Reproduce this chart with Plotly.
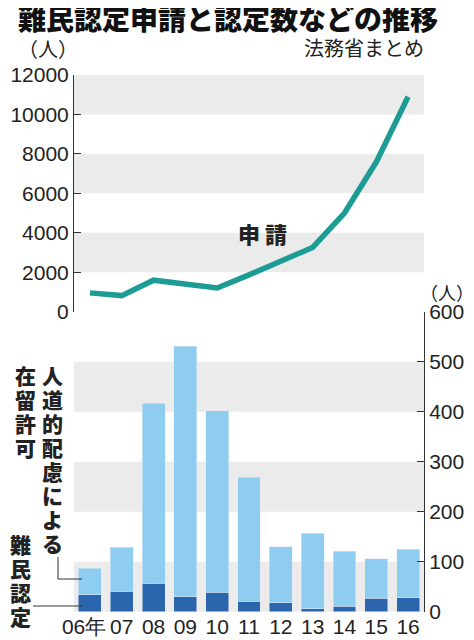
import plotly.graph_objects as go

# page body has an 8px margin; the figure is sized so that it fills 474x640 of the window
OX, OY = 8, 8
W, H = 474 - OX, 640 - OY

years = ["06年\u00a0\u00a0", "07", "08", "09", "10", "11", "12", "13", "14", "15", "16"]
applications = [954, 816, 1599, 1388, 1202, 1867, 2545, 3260, 5000, 7586, 10901]
recognized = [34, 41, 57, 30, 39, 21, 18, 6, 11, 27, 28]
humanitarian = [53, 88, 360, 501, 363, 248, 112, 151, 110, 79, 97]

top_ticks = [0, 2000, 4000, 6000, 8000, 10000, 12000]
bottom_ticks = [0, 100, 200, 300, 400, 500, 600]

TEAL = "#1c9c94"
LIGHT = "#8ecdf0"
DARK = "#2b65ae"
BAND = "#ebebeb"
INK = "#222222"
NUM_FONT = "Liberation Sans, Arial, sans-serif"
JP = "Noto Sans CJK JP"
NUM_SIZE = 21

def px(x):
    return (x - OX) / W

def py(y):
    return 1 - (y - OY) / H

xs = list(range(len(years)))

fig = go.Figure()
fig.add_trace(go.Bar(x=xs, y=recognized, marker_color=DARK, width=0.72,
                     xaxis="x", yaxis="y", hoverinfo="skip"))
fig.add_trace(go.Bar(x=xs, y=humanitarian, marker_color=LIGHT, width=0.72,
                     xaxis="x", yaxis="y", hoverinfo="skip"))
fig.add_trace(go.Scatter(x=xs, y=applications, mode="lines",
                         line=dict(color=TEAL, width=5.5),
                         xaxis="x2", yaxis="y2", hoverinfo="skip"))

shapes = []
for lo, hi in zip(top_ticks[1::2], top_ticks[2::2]):
    shapes.append(dict(type="rect", xref="x2 domain", yref="y2", x0=0, x1=1,
                       y0=lo, y1=hi, fillcolor=BAND, line_width=0, layer="below"))
for lo, hi in zip(bottom_ticks[0::2], bottom_ticks[1::2]):
    shapes.append(dict(type="rect", xref="x domain", yref="y", x0=0, x1=1,
                       y0=lo, y1=hi, fillcolor=BAND, line_width=0, layer="below"))

# leader lines
shapes.append(dict(type="path", xref="paper", yref="paper",
                   path=f"M {px(58)} {py(557)} L {px(58)} {py(579)} L {px(82)} {py(579)}",
                   line=dict(color="#333", width=1)))
shapes.append(dict(type="line", xref="paper", yref="paper",
                   x0=px(33), y0=py(606), x1=px(82), y1=py(606),
                   line=dict(color="#333", width=1)))

annotations = []

def text(t, x, y, size, bold=False, xanchor="center", color=INK, font=JP):
    annotations.append(dict(text=t, x=px(x), y=py(y), xref="paper", yref="paper",
                            xanchor=xanchor, yanchor="middle", showarrow=False,
                            font=dict(family=font, size=size, color=color,
                                      weight=900 if bold else 400)))

def vertical(t, x, y0, step, size):
    for i, ch in enumerate(t):
        text(ch, x, y0 + i * step, size, bold=True)

text("難民認定申請と認定数などの推移", 16, 18, 28, bold=True, xanchor="left", color="#111")
text("法務省まとめ", 426, 47, 20, xanchor="right")
text("（人）", 48, 48, 20)
text("（人）", 447, 292, 18)
text("申 請", 263, 233, 22, bold=True)

vertical("在留許可", 25, 375, 24, 21)
vertical("人道的配慮による", 52, 375, 24, 21)
vertical("難民認定", 20, 544, 24, 21)

numfont = dict(family=NUM_FONT, size=NUM_SIZE, color=INK)

fig.update_layout(
    width=W, height=H,
    margin=dict(l=0, r=0, t=0, b=0, autoexpand=False),
    paper_bgcolor="white", plot_bgcolor="white",
    barmode="stack", showlegend=False,
    shapes=shapes, annotations=annotations,
    xaxis=dict(domain=[px(74), px(424)], anchor="y", range=[-0.5, 10.5],
               tickmode="array", tickvals=xs, ticktext=years, tickangle=0,
               automargin=False,
               showline=False, showgrid=False, zeroline=False, ticks="",
               tickfont=numfont),
    yaxis=dict(domain=[py(611.7), py(311.7)], anchor="x", side="right",
               range=[0, 600], tickmode="array", tickvals=bottom_ticks,
               ticktext=[str(v) for v in bottom_ticks], automargin=False,
               showline=True, linecolor="#333", linewidth=1,
               ticks="inside", ticklen=7, tickcolor="#333",
               showgrid=False, zeroline=False, tickfont=numfont),
    xaxis2=dict(domain=[px(74), px(424)], anchor="y2", range=[-0.5, 10.5],
                visible=False, automargin=False),
    yaxis2=dict(domain=[py(311.7), py(75)], anchor="x2", side="left",
                range=[0, 12000], tickmode="array", tickvals=top_ticks,
                ticktext=[str(v) for v in top_ticks], automargin=False,
                showline=True, linecolor="#333", linewidth=1,
                ticks="inside", ticklen=7, tickcolor="#333",
                showgrid=False, zeroline=False, tickfont=numfont),
)

fig.write_html("out.html")
